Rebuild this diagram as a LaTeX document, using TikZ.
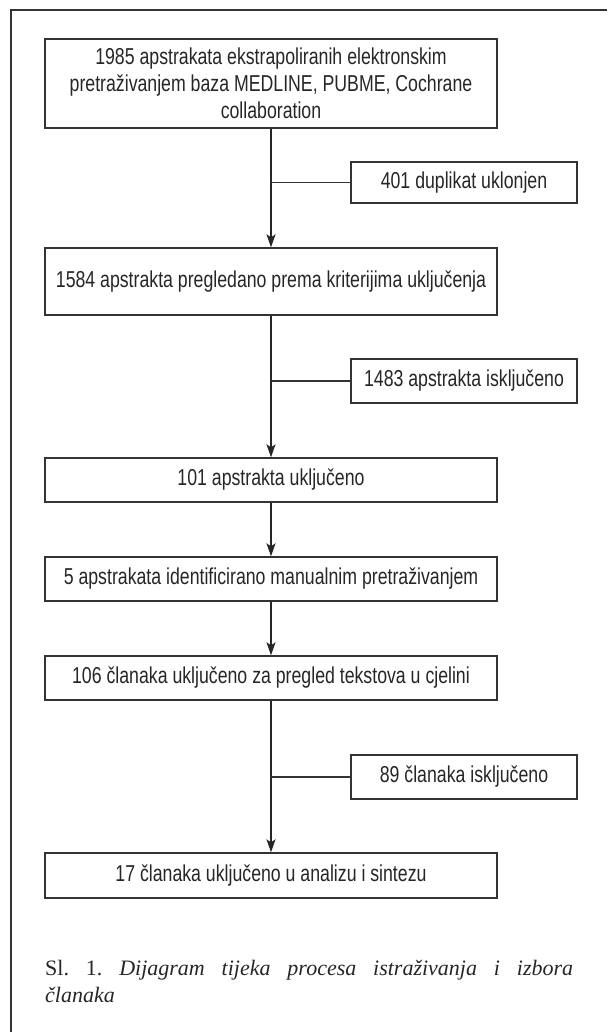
\documentclass[tikz,border=0pt]{standalone}
\usepackage{fontspec}
\setmainfont{Liberation Serif}
\newfontfamily\uskisans{Liberation Sans}[FakeStretch=0.77]
\usepackage{tikz}
\usetikzlibrary{arrows.meta,positioning}

\begin{document}
\begin{tikzpicture}[
				x = 1pt, y = -1pt,
				every node/.style = {font=\uskisans\fontsize{23}{27}\selectfont, text=black!85},
				glavni/.style = {draw=black!80, line width=1.4pt, minimum width=452pt, inner sep=0pt, align=center},
				bocni/.style = {draw=black!80, line width=1.4pt, minimum width=226pt, inner sep=0pt},
				strelica/.style = {draw=black!85, line width=1.4pt, -{Stealth[length=13pt,width=9pt,inset=3pt]}}
				]
				\useasboundingbox (0,0) rectangle (607,1032);
				\draw [line width=2pt, black!80] (10.5,1032) -- (10.5,10) -- (607,10);
				
				\node [glavni, minimum height=89pt] (baze) at (271,83.5) {1985 apstrakata ekstrapoliranih elektronskim\\ pretraživanjem baza MEDLINE, PUBME, Cochrane\\ collaboration};
				\node [bocni, minimum height=41pt] (duplikat) at (464,182.5) {401 duplikat uklonjen};
				\node [glavni, minimum height=67pt] (pregled) at (271,281.5) {1584 apstrakta pregledano prema kriterijima uključenja};
				\node [bocni, minimum height=44pt] (iskljuceno) at (464,381) {1483 apstrakta isključeno};
				\node [glavni, minimum height=44pt] (ukljuceno) at (271,480) {101 apstrakta uključeno};
				\node [glavni, minimum height=44pt] (manualno) at (271,579) {5 apstrakata identificirano manualnim pretraživanjem};
				\node [glavni, minimum height=44pt] (cjelina) at (271,678) {106 članaka uključeno za pregled tekstova u cjelini};
				\node [bocni, minimum height=44pt] (clanci) at (464,777) {89 članaka isključeno};
				\node [glavni, minimum height=45pt] (sinteza) at (271,875.5) {17 članaka uključeno u analizu i sintezu};
				
				\draw [strelica] (baze) -- (pregled);
				\draw [strelica] (pregled) -- (ukljuceno);
				\draw [strelica] (ukljuceno) -- (manualno);
				\draw [strelica] (manualno) -- (cjelina);
				\draw [strelica] (cjelina) -- (sinteza);
				
				\draw [line width=1.4pt, black!80] (duplikat.west) -- (duplikat.west -| baze.south);
				\draw [line width=1.4pt, black!80] (iskljuceno.west) -- (iskljuceno.west -| baze.south);
				\draw [line width=1.4pt, black!80] (clanci.west) -- (clanci.west -| baze.south);
				
				\node [font=\rmfamily\fontsize{22}{27}\selectfont\frenchspacing, text width=528pt, align=justify, inner sep=0pt, anchor=north west] (opis) at (45,960) {Sl. 1. \textit{Dijagram tijeka procesa istraživanja i izbora}\linebreak\textit{članaka}};
			\end{tikzpicture}
\end{document}
